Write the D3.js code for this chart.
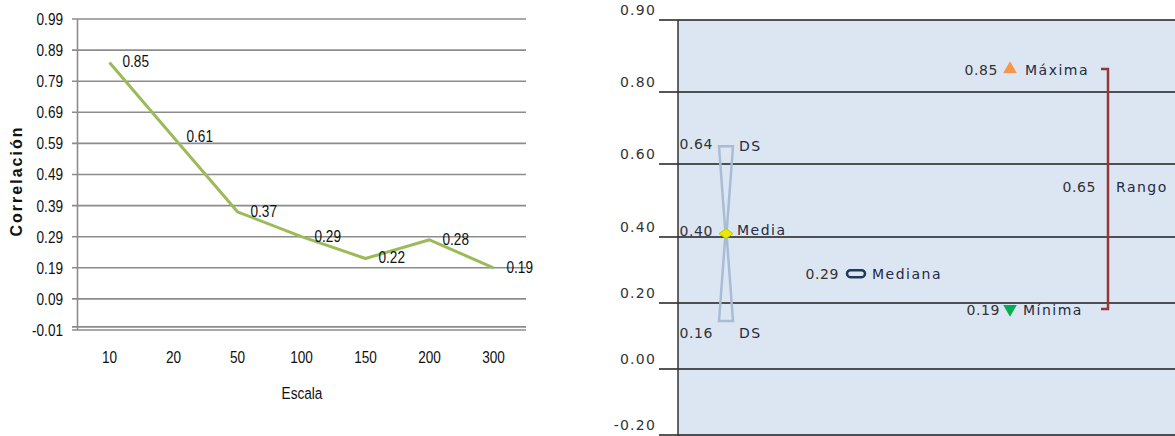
<!DOCTYPE html>
<html>
<head>
<meta charset="utf-8">
<script src="https://cdn.jsdelivr.net/npm/d3@7"></script>
<style>
  html, body { margin: 0; padding: 0; background: #ffffff; }
  svg { display: block; }
  .narrow { font-family: "Liberation Sans", Arial, sans-serif; }
  .wide { font-family: "DejaVu Sans", Verdana, sans-serif; }
</style>
</head>
<body>
<svg id="chart" width="1175" height="436"></svg>
<script>
// ---------- Left chart data ----------
const scales = ["10", "20", "50", "100", "150", "200", "300"];
const correlation = [0.85, 0.61, 0.37, 0.29, 0.22, 0.28, 0.19];
const leftTicks = [0.99, 0.89, 0.79, 0.69, 0.59, 0.49, 0.39, 0.29, 0.19, 0.09, -0.01];

// ---------- Right chart data ----------
const rightTicks = [0.90, 0.80, 0.60, 0.40, 0.20, 0.00, -0.20];
const statGroups = ["DS", "Mediana", "Extremos", "Rango"];
const meanValue = 0.40;
const sdUpper = 0.64;
const sdLower = 0.16;
const medianValue = 0.29;
const maxValue = 0.85;
const minValue = 0.19;
const rangeValue = 0.65;

const svg = d3.select("#chart");
const SQUEEZE = 0.8;
const fmt = d3.formatLocale({ decimal: ".", thousands: ",", grouping: [3], currency: ["", ""], minus: "-" }).format(".2f");

function condensed(sel, xf, yf) {
  sel.attr("transform", (d, i) => `translate(${xf(d, i)},${yf(d, i)}) scale(${SQUEEZE},1)`);
}

// =============== LEFT CHART ===============
const xL = d3.scaleBand().domain(scales).range([77.5, 525.5]);
const yL = d3.scaleLinear().domain([-0.01, 0.99]).range([330, 19]);

const gL = svg.append("g");

gL.selectAll("line.grid").data(leftTicks).join("line")
  .attr("x1", 72).attr("x2", 526)
  .attr("y1", d => yL(d)).attr("y2", d => yL(d))
  .attr("stroke", "#8c8c8c").attr("stroke-width", 1.6);

gL.append("line")
  .attr("x1", 72).attr("x2", 526)
  .attr("y1", yL(0)).attr("y2", yL(0))
  .attr("stroke", "#8c8c8c").attr("stroke-width", 1.6);

gL.append("line")
  .attr("x1", 77.5).attr("x2", 77.5)
  .attr("y1", yL(0.99)).attr("y2", yL(-0.01))
  .attr("stroke", "#8c8c8c").attr("stroke-width", 1.6);

gL.selectAll("text.ytick").data(leftTicks).join("text")
  .attr("class", "narrow")
  .attr("dy", "0.35em")
  .attr("text-anchor", "end")
  .attr("font-size", 17)
  .attr("fill", "#111")
  .text(d => fmt(d))
  .call(condensed, () => 63, d => yL(d));

gL.selectAll("text.xtick").data(scales).join("text")
  .attr("class", "narrow")
  .attr("dy", "0.35em")
  .attr("text-anchor", "middle")
  .attr("font-size", 17)
  .attr("fill", "#111")
  .text(d => d)
  .call(condensed, d => xL(d) + xL.bandwidth() / 2, () => 357);

const pts = scales.map((s, i) => [xL(s) + xL.bandwidth() / 2, yL(correlation[i])]);
gL.append("path")
  .attr("d", d3.line()(pts))
  .attr("fill", "none")
  .attr("stroke", "#9bbb59")
  .attr("stroke-width", 3)
  .attr("stroke-linejoin", "round");

gL.selectAll("text.dl").data(correlation).join("text")
  .attr("class", "narrow")
  .attr("dy", "0.35em")
  .attr("font-size", 17)
  .attr("fill", "#111")
  .text(d => fmt(d))
  .call(condensed, (d, i) => xL(scales[i]) + xL.bandwidth() / 2 + 13, d => yL(d) - 1);

gL.append("text")
  .attr("class", "narrow")
  .attr("dy", "0.35em")
  .attr("text-anchor", "middle")
  .attr("font-size", 17)
  .attr("fill", "#111")
  .text("Escala")
  .call(condensed, () => 302, () => 393);

gL.append("text")
  .attr("class", "narrow")
  .attr("transform", "translate(22,181) rotate(-90)")
  .attr("text-anchor", "middle")
  .attr("font-size", 16)
  .attr("font-weight", "bold")
  .attr("letter-spacing", 2)
  .attr("fill", "#111")
  .text("Correlación");

// =============== RIGHT CHART ===============
const yGrid = d3.scaleLinear()
  .domain(rightTicks.slice().reverse())
  .range([435, 369, 303, 237, 164, 92, 20]);
const yR = d3.scaleLinear().domain([minValue, maxValue]).range([310, 70]);
const xR = d3.scaleOrdinal().domain(statGroups).range([726, 856, 1010, 1108]);

const gR = svg.append("g");

gR.append("rect")
  .attr("x", 678).attr("y", yGrid(0.90))
  .attr("width", 1175 - 678).attr("height", 436 - yGrid(0.90))
  .attr("fill", "#dce6f2");

gR.selectAll("line.grid").data(rightTicks).join("line")
  .attr("x1", 659).attr("x2", 1175)
  .attr("y1", d => yGrid(d)).attr("y2", d => yGrid(d))
  .attr("stroke", "#1e1e1e").attr("stroke-width", 1.3);

gR.append("line")
  .attr("x1", 678).attr("x2", 678)
  .attr("y1", yGrid(0.90)).attr("y2", 436)
  .attr("stroke", "#333").attr("stroke-width", 1.5);

gR.selectAll("text.ytick").data(rightTicks).join("text")
  .attr("class", "wide")
  .attr("x", 656).attr("y", d => yGrid(d) - 10)
  .attr("dy", "0.35em")
  .attr("text-anchor", "end")
  .attr("font-size", 14)
  .attr("letter-spacing", 1.2)
  .attr("fill", "#333")
  .text(d => fmt(d));

// hourglass (standard deviation)
const cx = xR("DS");
const hw = 7;
const hg = d3.path();
hg.moveTo(cx - hw, yR(sdUpper));
hg.lineTo(cx + hw, yR(sdUpper));
hg.lineTo(cx + 0.5, yR(meanValue));
hg.lineTo(cx + hw, yR(sdLower));
hg.lineTo(cx - hw, yR(sdLower));
hg.lineTo(cx - 0.5, yR(meanValue));
hg.closePath();
gR.append("path")
  .attr("d", hg.toString())
  .attr("fill", "none")
  .attr("stroke", "#a9bcd6")
  .attr("stroke-width", 2.5);

const my = yR(meanValue);
gR.append("path")
  .attr("d", `M${cx - 7},${my} L${cx},${my - 5} L${cx + 7},${my} L${cx},${my + 5} Z`)
  .attr("fill", "#e8e800")
  .attr("stroke", "#c8c800")
  .attr("stroke-width", 1);

const mx = xR("Mediana");
gR.append("rect")
  .attr("x", mx - 9).attr("y", yR(medianValue) - 3.5)
  .attr("width", 18).attr("height", 7)
  .attr("rx", 3.5)
  .attr("fill", "none")
  .attr("stroke", "#1f3a5f")
  .attr("stroke-width", 2.5);

const ex = xR("Extremos");
gR.append("path")
  .attr("d", d3.symbol().type(d3.symbolTriangle).size(80)())
  .attr("transform", `translate(${ex},${yR(maxValue) - 1})`)
  .attr("fill", "#f79646");
gR.append("path")
  .attr("d", d3.symbol().type(d3.symbolTriangle).size(80)())
  .attr("transform", `translate(${ex},${yR(minValue) - 1}) rotate(180)`)
  .attr("fill", "#00b050");

const rx = xR("Rango");
gR.append("path")
  .attr("d", `M${rx - 7},${yR(maxValue) - 1} H${rx} V${yR(minValue) - 1} H${rx - 7}`)
  .attr("fill", "none")
  .attr("stroke", "#953735")
  .attr("stroke-width", 2.5);

const labels = [
  { v: fmt(sdUpper), x: cx - 13, y: yR(sdUpper) - 2, anchor: "end" },
  { v: "DS", x: cx + 13, y: yR(sdUpper), anchor: "start", name: true },
  { v: fmt(meanValue), x: cx - 13, y: my - 3, anchor: "end" },
  { v: "Media", x: cx + 11, y: my - 4, anchor: "start", name: true },
  { v: fmt(sdLower), x: cx - 13, y: yR(sdLower) + 12, anchor: "end" },
  { v: "DS", x: cx + 13, y: yR(sdLower) + 12, anchor: "start", name: true },
  { v: fmt(medianValue), x: mx - 17, y: yR(medianValue), anchor: "end" },
  { v: "Mediana", x: mx + 16, y: yR(medianValue), anchor: "start", name: true },
  { v: fmt(maxValue), x: ex - 12, y: yR(maxValue), anchor: "end" },
  { v: "Máxima", x: ex + 15, y: yR(maxValue), anchor: "start", name: true },
  { v: fmt(minValue), x: ex - 10, y: yR(minValue), anchor: "end" },
  { v: "Mínima", x: ex + 13, y: yR(minValue), anchor: "start", name: true },
  { v: fmt(rangeValue), x: rx - 12, y: yGrid(0.60) + 23, anchor: "end" },
  { v: "Rango", x: rx + 8, y: yGrid(0.60) + 23, anchor: "start", name: true }
];

gR.selectAll("text.lbl").data(labels).join("text")
  .attr("class", "wide")
  .attr("x", d => d.x).attr("y", d => d.y)
  .attr("dy", "0.35em")
  .attr("text-anchor", d => d.anchor)
  .attr("font-size", 14)
  .attr("letter-spacing", d => d.name ? 1.5 : 0.6)
  .attr("fill", d => d.name ? "#1f2a44" : "#333")
  .text(d => d.v);
</script>
</body>
</html>
